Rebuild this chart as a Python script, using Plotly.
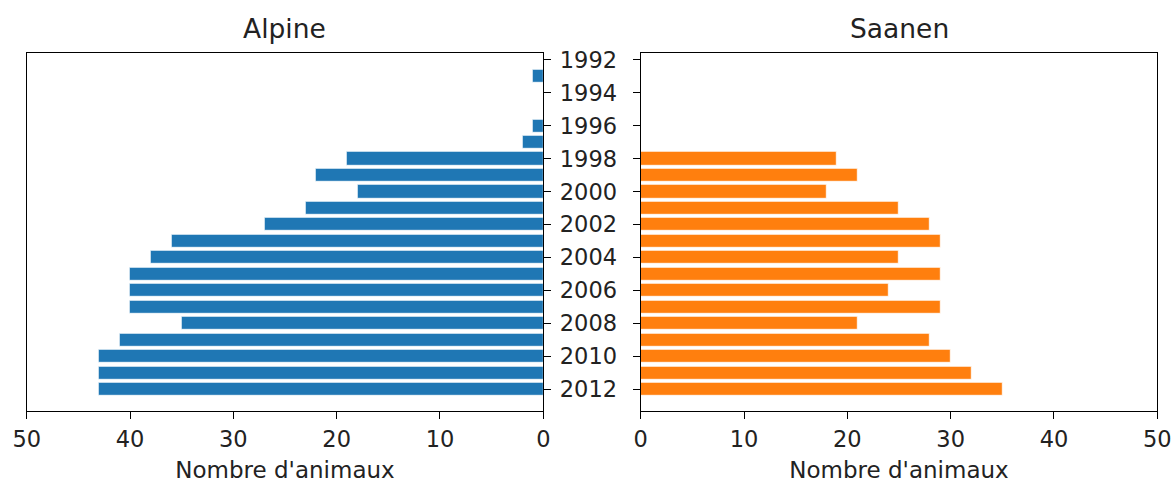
import plotly.graph_objects as go

years = list(range(1992, 2013))
alpine = [0, 1, 0, 0, 1, 2, 19, 22, 18, 23, 27, 36, 38, 40, 40, 40, 35, 41, 43, 43, 43]
saanen = [0, 0, 0, 0, 0, 0, 19, 21, 18, 25, 28, 29, 25, 29, 24, 29, 21, 28, 30, 32, 35]
titles = ["Alpine", "Saanen"]
xlabel = "Nombre d'animaux"
xticks = [0, 10, 20, 30, 40, 50]
yticks = list(range(1992, 2013, 2))

W, H = 1174, 483
FONT = "DejaVu Sans"
TXT = "#222"

fig = go.Figure()
fig.add_trace(go.Bar(y=years, x=alpine, orientation="h", width=0.8,
                     marker=dict(color="#1f77b4", line=dict(color="white", width=0.8)),
                     xaxis="x", yaxis="y", showlegend=False))
fig.add_trace(go.Bar(y=years, x=saanen, orientation="h", width=0.8,
                     marker=dict(color="#ff7f0e", line=dict(color="white", width=0.8)),
                     xaxis="x2", yaxis="y2", showlegend=False))

yrange = [2013.32, 1991.56]
ydom = [72 / H, 430.3 / H]
common_x = dict(showline=True, linecolor="black", linewidth=1.3, mirror=True,
                ticks="outside", ticklen=7, tickwidth=1.2, tickcolor="black",
                tickvals=xticks, showgrid=False, zeroline=False, automargin=False,
                ticklabelstandoff=1,
                tickfont=dict(family=FONT, size=22.5, color=TXT),
                title=dict(text=xlabel, font=dict(family=FONT, size=23, color=TXT), standoff=12))
common_y = dict(showline=True, linecolor="black", linewidth=1.3, mirror=True,
                ticks="outside", ticklen=7, tickwidth=1.2, tickcolor="black",
                tickvals=yticks, range=yrange, showgrid=False, zeroline=False, domain=ydom,
                automargin=False, tickfont=dict(family=FONT, size=22.5, color=TXT))

fig.update_layout(
    width=W, height=H, margin=dict(l=0, r=0, t=0, b=0, autoexpand=False),
    paper_bgcolor="white", plot_bgcolor="white", bargap=0,
    xaxis=dict(domain=[26.7 / W, 543.3 / W], range=[50, 0], anchor="y", **common_x),
    xaxis2=dict(domain=[640.7 / W, 1157.3 / W], range=[0, 50], anchor="y2", **common_x),
    yaxis=dict(anchor="x", side="right", showticklabels=False, **common_y),
    yaxis2=dict(anchor="x2", side="left", showticklabels=True, ticklabelstandoff=11, **common_y),
)

for i, t in enumerate(titles):
    fig.add_annotation(text=t, xref=("x domain" if i == 0 else "x2 domain"), x=0.5,
                       yref="paper", y=(H - 28) / H, yanchor="middle", xanchor="center",
                       showarrow=False, font=dict(family=FONT, size=26.5, color=TXT))

fig.write_html("out.html", config={"displayModeBar": False},
               post_script="document.body.style.margin='0';")
